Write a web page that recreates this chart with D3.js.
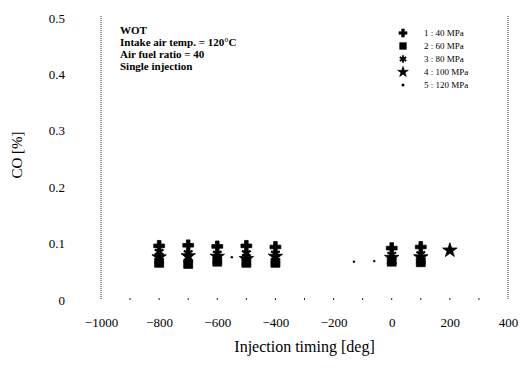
<!DOCTYPE html>
<html>
<head>
<meta charset="utf-8">
<script src="https://cdn.jsdelivr.net/npm/d3@7"></script>
<style>
  html, body { margin: 0; padding: 0; background: #fff; }
  svg { display: block; font-family: "Liberation Serif", "DejaVu Serif", serif; }
</style>
</head>
<body>
<svg id="chart" width="521" height="369"></svg>
<script>
// Injection timing sweep (deg) and CO emission per condition
const timings = [-800, -700, -600, -500, -400, 0, 100, 200];
const seriesNames = ["1 : 40 MPa", "2 : 60 MPa", "3 : 80 MPa", "4 : 100 MPa", "5 : 120 MPa"];
const coPlus     = [0.096, 0.097, 0.095, 0.096, 0.094, 0.092, 0.094, null];
const coSquare   = [0.066, 0.064, 0.068, 0.066, 0.066, 0.068, 0.067, null];
const coAsterisk = [0.085, 0.083, 0.082, 0.083, 0.082, 0.080, 0.081, null];
const coStar     = [0.076, 0.078, 0.077, 0.073, 0.077, 0.075, 0.076, 0.088];
const dotTimings = [-550, -130, -60];
const coDot      = [0.076, 0.068, 0.069];
const xTicks = [-1000, -800, -600, -400, -200, 0, 200, 400];
const yTicks = [0, 0.1, 0.2, 0.3, 0.4, 0.5];
const noteLines = ["WOT", "Intake air temp. = 120°C", "Air fuel ratio = 40", "Single injection"];

const svg = d3.select("#chart");
const m = { left: 101, right: 508, top: 16, bottom: 300 };

const x = d3.scaleLinear().domain([-1000, 400]).range([m.left, m.right]);
const y = d3.scaleLinear().domain([0, 0.5]).range([m.bottom, m.top + 2]);

// frame: dotted side borders
[m.left, m.right].forEach(px => {
  svg.append("line").attr("x1", px).attr("x2", px).attr("y1", m.top).attr("y2", m.bottom)
    .attr("stroke", "#333").attr("stroke-width", 1).attr("stroke-dasharray", "1,1");
});

// x axis: labels every 200, small minor marks every 100
const xAxis = d3.axisBottom(x).tickValues(xTicks).tickSize(0).tickPadding(18)
  .tickFormat(d3.format("d"));
const gx = svg.append("g").attr("transform", `translate(0,${m.bottom})`).call(xAxis);
gx.select(".domain").remove();
gx.selectAll("text").attr("font-size", 13).attr("font-family", "Liberation Serif").attr("fill", "#000");

const minor = d3.range(-900, 400, 100);
svg.append("g").selectAll("line").data(minor).join("line")
  .attr("x1", d => x(d)).attr("x2", d => x(d))
  .attr("y1", m.bottom - 2).attr("y2", m.bottom)
  .attr("stroke", "#222").attr("stroke-width", 1);

// y axis labels
const yAxis = d3.axisLeft(y).tickValues(yTicks).tickSize(0).tickPadding(36)
  .tickFormat(d => d === 0 ? "0" : d3.format(".1f")(d));
const gy = svg.append("g").attr("transform", `translate(${m.left},0)`).call(yAxis);
gy.select(".domain").remove();
gy.selectAll("text").attr("font-size", 13).attr("font-family", "Liberation Serif").attr("fill", "#000");

// axis titles
svg.append("text").attr("x", (m.left + m.right) / 2).attr("y", 352)
  .attr("text-anchor", "middle").attr("font-size", 16).text("Injection timing [deg]");
svg.append("text").attr("transform", "translate(22,155) rotate(-90)")
  .attr("text-anchor", "middle").attr("font-size", 15).text("CO [%]");

// marker definitions
const markers = [
  { name: seriesNames[0], vals: coPlus,     sym: d3.symbolCross,    size: 65, fill: "#000" },
  { name: seriesNames[1], vals: coSquare,   sym: d3.symbolSquare,   size: 80, fill: "#000" },
  { name: seriesNames[2], vals: coAsterisk, sym: d3.symbolAsterisk, size: 70, fill: "none" },
  { name: seriesNames[3], vals: coStar,     sym: d3.symbolStar,     size: 65, fill: "#000" },
];

const plot = svg.append("g");
markers.forEach(s => {
  const pts = timings.map((t, i) => [t, s.vals[i]]).filter(p => p[1] != null);
  plot.append("g").selectAll("path").data(pts).join("path")
    .attr("transform", d => `translate(${x(d[0])},${y(d[1])})`)
    .attr("d", d3.symbol(s.sym, s.size))
    .attr("fill", s.fill)
    .attr("stroke", "#000").attr("stroke-width", s.fill === "none" ? 2.2 : 0.8);
});
plot.append("g").selectAll("circle").data(dotTimings.map((t, i) => [t, coDot[i]])).join("circle")
  .attr("cx", d => x(d[0])).attr("cy", d => y(d[1])).attr("r", 1.2).attr("fill", "#000");

// annotation block
const note = svg.append("g").attr("font-size", 11).attr("font-weight", "bold");
noteLines.forEach((t, i) => {
  note.append("text").attr("x", 120).attr("y", 34 + i * 12).text(t);
});

// legend
const legend = svg.append("g");
const legendItems = markers.map(s => ({ name: s.name, sym: s.sym, fill: s.fill, size: s.size * 0.55 }))
  .concat([{ name: seriesNames[4], dot: true }]);
legendItems.forEach((it, i) => {
  const ly = 33 + i * 13;
  if (it.dot) {
    legend.append("circle").attr("cx", 403).attr("cy", ly).attr("r", 1.5).attr("fill", "#000");
  } else {
    legend.append("path").attr("transform", `translate(403,${ly})`)
      .attr("d", d3.symbol(it.sym, it.size))
      .attr("fill", it.fill).attr("stroke", "#000")
      .attr("stroke-width", it.fill === "none" ? 1.8 : 0.6);
  }
  legend.append("text").attr("x", 424).attr("y", ly + 3).attr("font-size", 9).text(it.name);
});
</script>
</body>
</html>
